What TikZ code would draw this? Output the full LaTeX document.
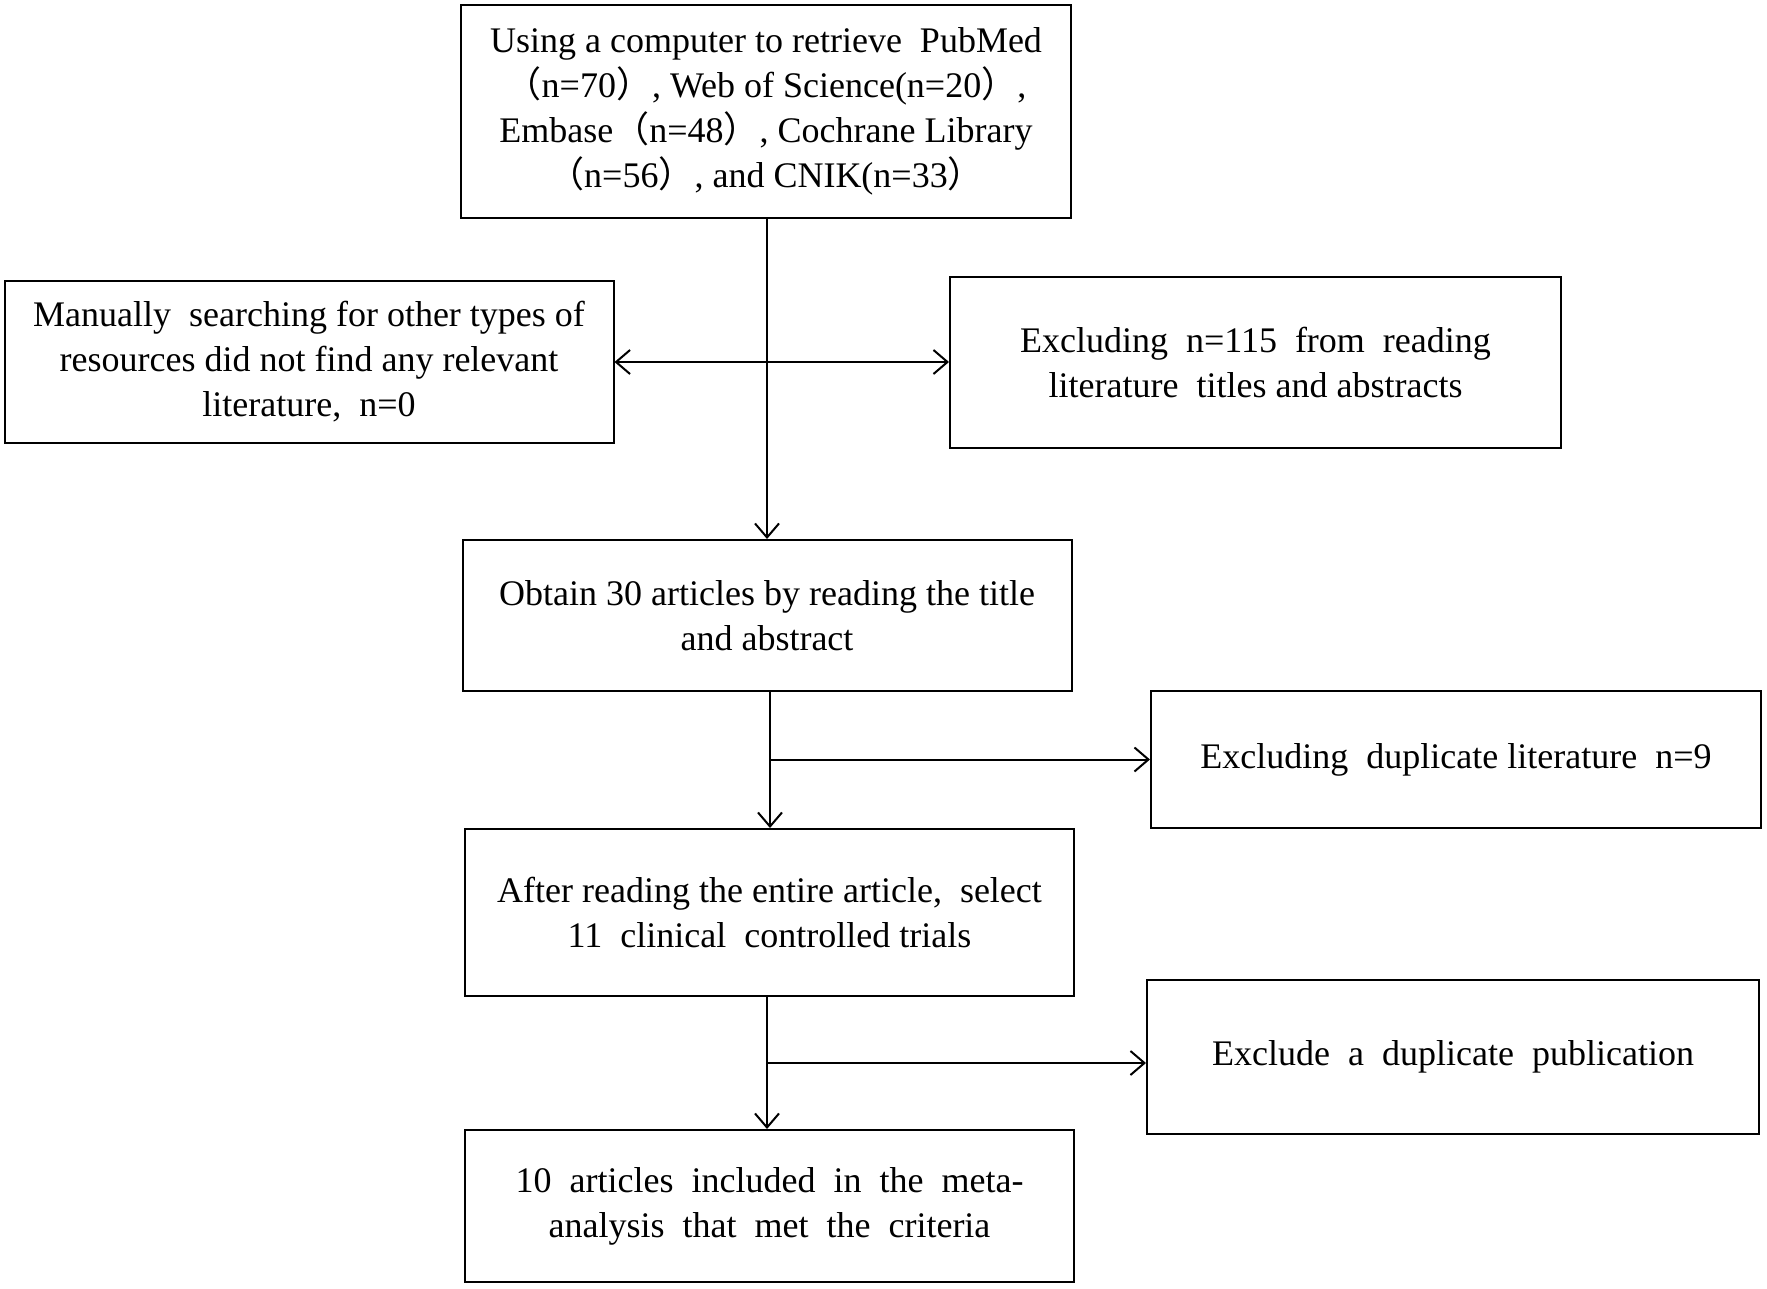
\documentclass[tikz,border=0pt]{standalone}
\usepackage{fontspec}
\setmainfont{Liberation Serif}
\newfontfamily\cjk{Noto Sans CJK SC}
\usetikzlibrary{arrows.meta}
\newcommand{\lpar}{{\cjk （}}
\newcommand{\rpar}{{\cjk ）}}
\begin{document}
\begin{tikzpicture}[x=1pt,y=-1pt,
  box/.style={draw=black,line width=2pt,inner sep=0pt,align=center,
    font=\fontsize{36}{45}\selectfont},
  conn/.style={line width=2pt,-{Straight Barb[length=14pt,width=24pt,line width=2pt]}},
  dconn/.style={line width=2pt,{Straight Barb[length=14pt,width=24pt,line width=2pt]}-{Straight Barb[length=14pt,width=24pt,line width=2pt]}}]
\useasboundingbox[fill=white] (0,0) rectangle (1767,1288);
\node[box,minimum width=610pt,minimum height=213pt] (top) at (766,111)
  {Using a computer to retrieve \ PubMed\\
   \lpar n=70\rpar , Web of Science(n=20\rpar ,\\
   Embase\lpar n=48\rpar , Cochrane Library\\
   \lpar n=56\rpar , and CNIK(n=33\rpar};
\node[box,minimum width=609pt,minimum height=162pt] (left) at (309,362)
  {Manually \ searching for other types of\\
   resources did not find any relevant\\
   literature, \ n=0};
\node[box,minimum width=611pt,minimum height=171pt] (right) at (1255.5,362)
  {Excluding \ n=115 \ from \ reading\\
   literature \ titles and abstracts};
\node[box,minimum width=609pt,minimum height=151pt] (b2) at (767,615.5)
  {Obtain 30 articles by reading the title\\ and abstract};
\node[box,minimum width=610pt,minimum height=137pt] (r2) at (1456,759.5)
  {Excluding \ duplicate literature \ n=9};
\node[box,minimum width=609pt,minimum height=167pt] (b3) at (769.5,912.5)
  {After reading the entire article, \ select\\ 11 \ clinical \ controlled trials};
\node[box,minimum width=612pt,minimum height=154pt] (r3) at (1453,1057)
  {Exclude \ a \ duplicate \ publication};
\node[box,minimum width=609pt,minimum height=152pt] (b4) at (769.5,1206)
  {10 \ articles \ included \ in \ the \ meta-\\ analysis \ that \ met \ the \ criteria};
% trunk 1
\draw[conn] (top.south -| b2.north) -- (b2.north);
\draw[dconn] (left.east) -- (right.west);
% trunk 2
\coordinate (t2) at (770,0);
\draw[conn] (b2.south -| t2) -- (b3.north -| t2);
\draw[conn] (r2.west -| t2) -- (r2.west);
% trunk 3
\coordinate (t3) at (767,1063);
\draw[conn] (b3.south -| t3) -- (b4.north -| t3);
\draw[conn] (t3) -- (t3 -| r3.west);
\end{tikzpicture}
\end{document}
